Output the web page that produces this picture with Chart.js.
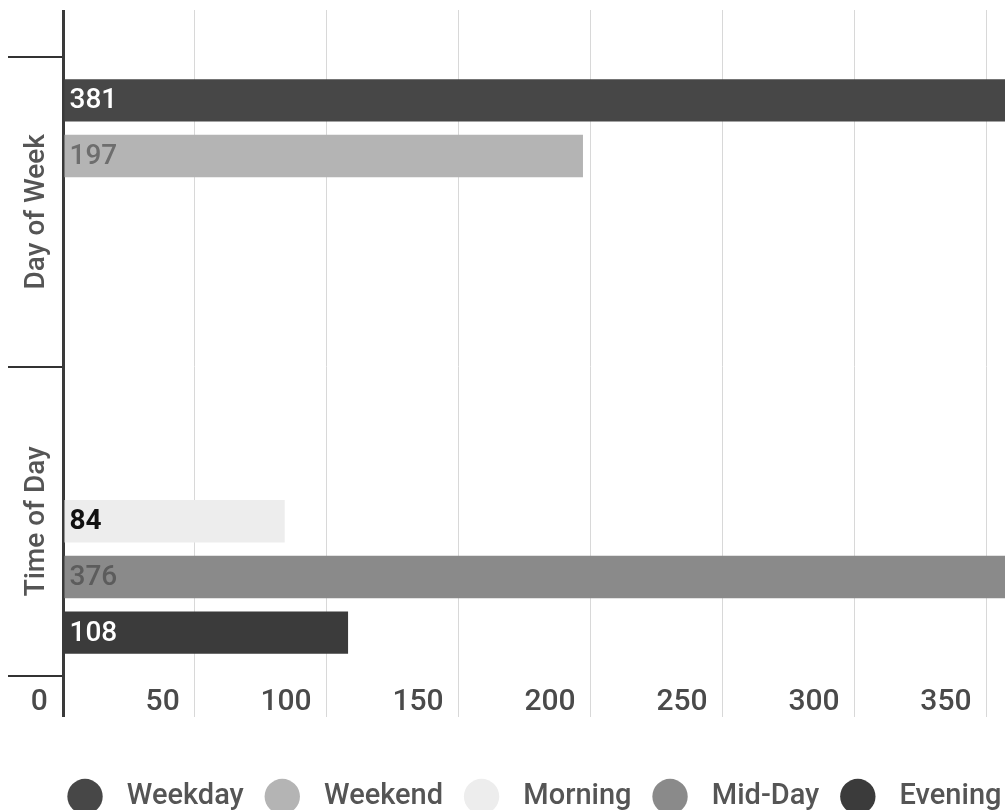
<!DOCTYPE html>
<html>
<head>
<meta charset="utf-8">
<script src="https://cdn.jsdelivr.net/npm/chart.js@4"></script>
<style>
  body { margin: 0; overflow: hidden; background: #fff; }
</style>
</head>
<body>
<canvas id="myChart" width="1080" height="821"></canvas>
<script>
// data
var categories = ['Day of Week', 'Time of Day'];
var seriesNames = ['Weekday', 'Weekend', 'Morning', 'Mid-Day', 'Evening'];
var weekdayValues = [381, null];
var weekendValues = [197, null];
var morningValues = [null, 84];
var midDayValues = [null, 376];
var eveningValues = [null, 108];
var tickValues = [0, 50, 100, 150, 200, 250, 300, 350];

// styles
var barColors = ['#474747', '#b4b4b4', '#ededed', '#8a8a8a', '#3b3b3b'];
var labelColors = ['#ffffff', '#6e6e6e', '#111111', '#5c5c5c', '#ffffff'];
var labelWeights = ['500', '500', '700', '500', '500'];

var allValues = [weekdayValues, weekendValues, morningValues, midDayValues, eveningValues];

// value labels at the start of each bar
var valueLabels = {
    id: 'valueLabels',
    afterDatasetsDraw: function (chart) {
        var ctx = chart.ctx;
        chart.data.datasets.forEach(function (ds, i) {
            var meta = chart.getDatasetMeta(i);
            meta.data.forEach(function (bar, j) {
                if (ds.data[j] == null) return;
                ctx.save();
                ctx.font = labelWeights[i] + ' 28px Roboto';
                ctx.fillStyle = labelColors[i];
                ctx.textAlign = 'left';
                ctx.textBaseline = 'middle';
                ctx.fillText(ds.data[j], bar.base + 5, bar.y + 1);
                ctx.restore();
            });
        });
    }
};

function setTicks(scale) {
    scale.ticks = tickValues.map(function (v) { return { value: v }; });
}

function gridColor(c) {
    return c.tick && c.tick.value === 0 ? '#3a3a3a' : '#d8d8d8';
}
function gridWidth(c) {
    return c.tick && c.tick.value === 0 ? 3 : 1;
}

var ctx = document.getElementById('myChart').getContext('2d');
var myChart = new Chart(ctx, {
    type: 'bar',
    data: {
        labels: categories,
        datasets: seriesNames.map(function (name, i) {
            return {
                label: name,
                data: allValues[i],
                backgroundColor: barColors[i],
                borderWidth: 0
            };
        })
    },
    options: {
        indexAxis: 'y',
        responsive: false,
        animation: false,
        categoryPercentage: 0.9,
        barPercentage: 0.76,
        layout: { padding: { top: 10, left: 8, right: 14, bottom: 0 } },
        scales: {
            x: {
                position: 'bottom',
                min: 0,
                max: 380,
                afterBuildTicks: setTicks,
                afterFit: function (s) { s.height = 80; },
                border: { display: false },
                grid: { color: gridColor, lineWidth: gridWidth, tickLength: 41 },
                ticks: {
                    align: 'end',
                    padding: -33,
                    color: '#4a4a4a',
                    font: { family: 'Roboto', size: 30, weight: '500' },
                    callback: function (v) { return v + '\u2002'; }
                }
            },
            x2: {
                position: 'top',
                axis: 'x',
                min: 0,
                max: 380,
                afterBuildTicks: setTicks,
                border: { display: false },
                grid: { color: gridColor, lineWidth: gridWidth, tickLength: 47, drawOnChartArea: false },
                ticks: { display: false }
            },
            y: {
                z: 1,
                afterFit: function (s) { s.width = 55; },
                border: { color: '#3a3a3a', width: 3 },
                grid: { drawOnChartArea: false, color: '#333', lineWidth: 2, tickLength: 55 },
                ticks: {
                    minRotation: 90,
                    maxRotation: 90,
                    crossAlign: 'center',
                    padding: -107,
                    color: '#555',
                    font: { family: 'Roboto', size: 28, weight: '500' }
                }
            }
        },
        plugins: {
            tooltip: { enabled: false },
            legend: {
                position: 'bottom',
                labels: {
                    usePointStyle: true,
                    pointStyle: 'circle',
                    boxWidth: 25,
                    boxHeight: 25,
                    padding: 26,
                    color: '#555',
                    font: { family: 'Roboto', size: 29, weight: '500' },
                    generateLabels: function (chart) {
                        var items = Chart.defaults.plugins.legend.labels.generateLabels(chart);
                        items.forEach(function (it) { it.text = '\u2002' + it.text; });
                        return items;
                    }
                }
            }
        }
    },
    plugins: [valueLabels]
});
</script>
</body>
</html>
